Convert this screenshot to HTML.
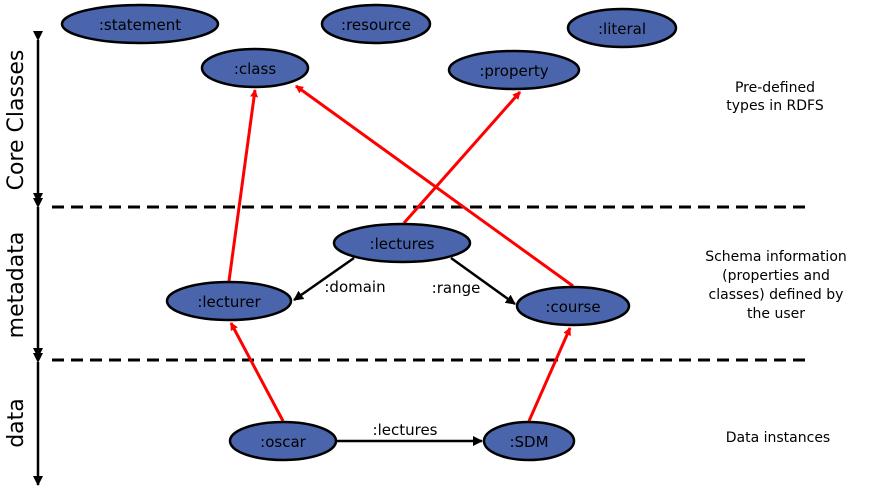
<!DOCTYPE html>
<html><head><style>body{margin:0;background:#fff}</style></head><body>
<svg width="873" height="491" xmlns="http://www.w3.org/2000/svg" font-family="'DejaVu Sans', 'Liberation Sans', sans-serif">
<defs>
<marker id="r" markerWidth="8" markerHeight="8" refX="7" refY="4" orient="auto" markerUnits="userSpaceOnUse"><path d="M0,0 L8,4 L0,8 z" fill="#f00"/></marker>
<marker id="b" markerWidth="10" markerHeight="10" refX="9" refY="5" orient="auto" markerUnits="userSpaceOnUse"><path d="M0,0 L10,5 L0,10 z" fill="#000"/></marker>
</defs>
<g stroke="#000" stroke-width="3" stroke-dasharray="12,7">
<line x1="52" y1="207" x2="808" y2="207"/><line x1="52" y1="360" x2="808" y2="360"/></g>
<g stroke="#000" stroke-width="2.5" marker-start="url(#b)" marker-end="url(#b)">
<line x1="38" y1="40" x2="38" y2="202"/><line x1="38" y1="207" x2="38" y2="357"/><line x1="38" y1="362" x2="38" y2="485"/></g>
<g font-size="22" text-anchor="middle" fill="#000">
<text transform="translate(23,120) rotate(-90)">Core Classes</text>
<text transform="translate(23,285) rotate(-90)">metadata</text>
<text transform="translate(23,423) rotate(-90)">data</text></g>
<g stroke="#f00" stroke-width="3" marker-end="url(#r)">
<line x1="229" y1="281" x2="255" y2="90"/>
<line x1="573" y1="286" x2="296" y2="86"/>
<line x1="404" y1="223" x2="520" y2="92"/>
<line x1="283" y1="421" x2="231" y2="323"/>
<line x1="529" y1="421" x2="570" y2="328"/></g>
<g stroke="#000" stroke-width="2.5" marker-end="url(#b)">
<line x1="354" y1="258" x2="294" y2="300"/>
<line x1="451" y1="258" x2="515" y2="304"/>
<line x1="336" y1="441" x2="482" y2="441"/></g>
<g fill="#4a65ac" stroke="#000" stroke-width="2.5">
<ellipse cx="140" cy="24" rx="78" ry="19"/>
<ellipse cx="376" cy="24" rx="54" ry="19"/>
<ellipse cx="622" cy="28" rx="54" ry="19"/>
<ellipse cx="255" cy="68" rx="53" ry="19"/>
<ellipse cx="514" cy="70" rx="65" ry="19"/>
<ellipse cx="402" cy="243" rx="68" ry="19"/>
<ellipse cx="229" cy="301" rx="62" ry="19"/>
<ellipse cx="573" cy="306" rx="56" ry="19"/>
<ellipse cx="283" cy="441" rx="53" ry="19"/>
<ellipse cx="529" cy="441" rx="45" ry="19"/></g>
<g font-size="15" text-anchor="middle" fill="#000">
<text x="140" y="30">:statement</text>
<text x="376" y="30">:resource</text>
<text x="622" y="34">:literal</text>
<text x="255" y="74">:class</text>
<text x="514" y="76">:property</text>
<text x="402" y="249">:lectures</text>
<text x="229" y="307">:lecturer</text>
<text x="573" y="312">:course</text>
<text x="283" y="447">:oscar</text>
<text x="529" y="447">:SDM</text>
<text x="355" y="292">:domain</text>
<text x="456" y="293">:range</text>
<text x="405" y="435">:lectures</text></g>
<g font-size="14" text-anchor="middle" fill="#000">
<text x="775" y="92">Pre-defined</text><text x="775" y="110">types in RDFS</text>
<text x="776" y="261">Schema information</text><text x="776" y="280">(properties and</text>
<text x="776" y="299">classes) defined by</text><text x="776" y="318">the user</text>
<text x="778" y="442">Data instances</text></g>
</svg>
</body></html>
